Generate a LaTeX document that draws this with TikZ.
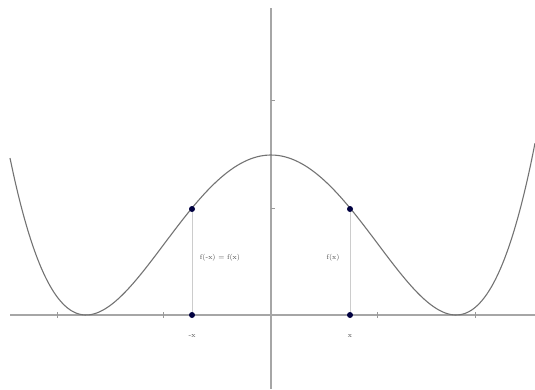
\documentclass[tikz,border=0pt]{standalone}
\begin{document}
\begin{tikzpicture}[x=1pt,y=-1pt,
  axis/.style={draw=black!35,line width=1.5pt},
  tick/.style={draw=black!40,line width=0.6pt},
  curve/.style={draw=black!55,line width=1.1pt},
  guide/.style={draw=black!20,line width=0.6pt},
  pt/.style={circle,fill=blue!25!black,inner sep=0pt,minimum size=6pt},
  lbl/.style={font=\fontsize{7}{8}\selectfont,text=black!70,inner sep=1pt}]
\useasboundingbox (0,0) rectangle (535,389);
% axes
\coordinate (xl) at (10,315);
\coordinate (xr) at (535,315);
\coordinate (yt) at (271,8);
\coordinate (yb) at (271,389);
\draw[axis] (xl) -- (xr);
\draw[axis] (yt) -- (yb);
% ticks
\foreach \t in {57,163,377,475} \draw[tick] (\t,312) -- (\t,318);
\foreach \t in {100,208} \draw[tick] (271,\t) -- (275,\t);
% curve
\draw[curve,smooth,samples=120,domain=-261:264]
  plot ({271+\x},{315-160*(1-(\x/185)^2)^2});
% points
\node[pt] (A) at (192,209) {};
\node[pt] (B) at (350,209) {};
\node[pt] (A0) at (192,315) {};
\node[pt] (B0) at (350,315) {};
\draw[guide] (A) -- (A0);
\draw[guide] (B) -- (B0);
% labels
\node[lbl] (la) at (220,258) {f(-x) = f(x)};
\node[lbl] (lb) at (333,258) {f(x)};
\node[lbl] (ma) at (192,336) {-x};
\node[lbl] (mb) at (350,336) {x};
\end{tikzpicture}
\end{document}
